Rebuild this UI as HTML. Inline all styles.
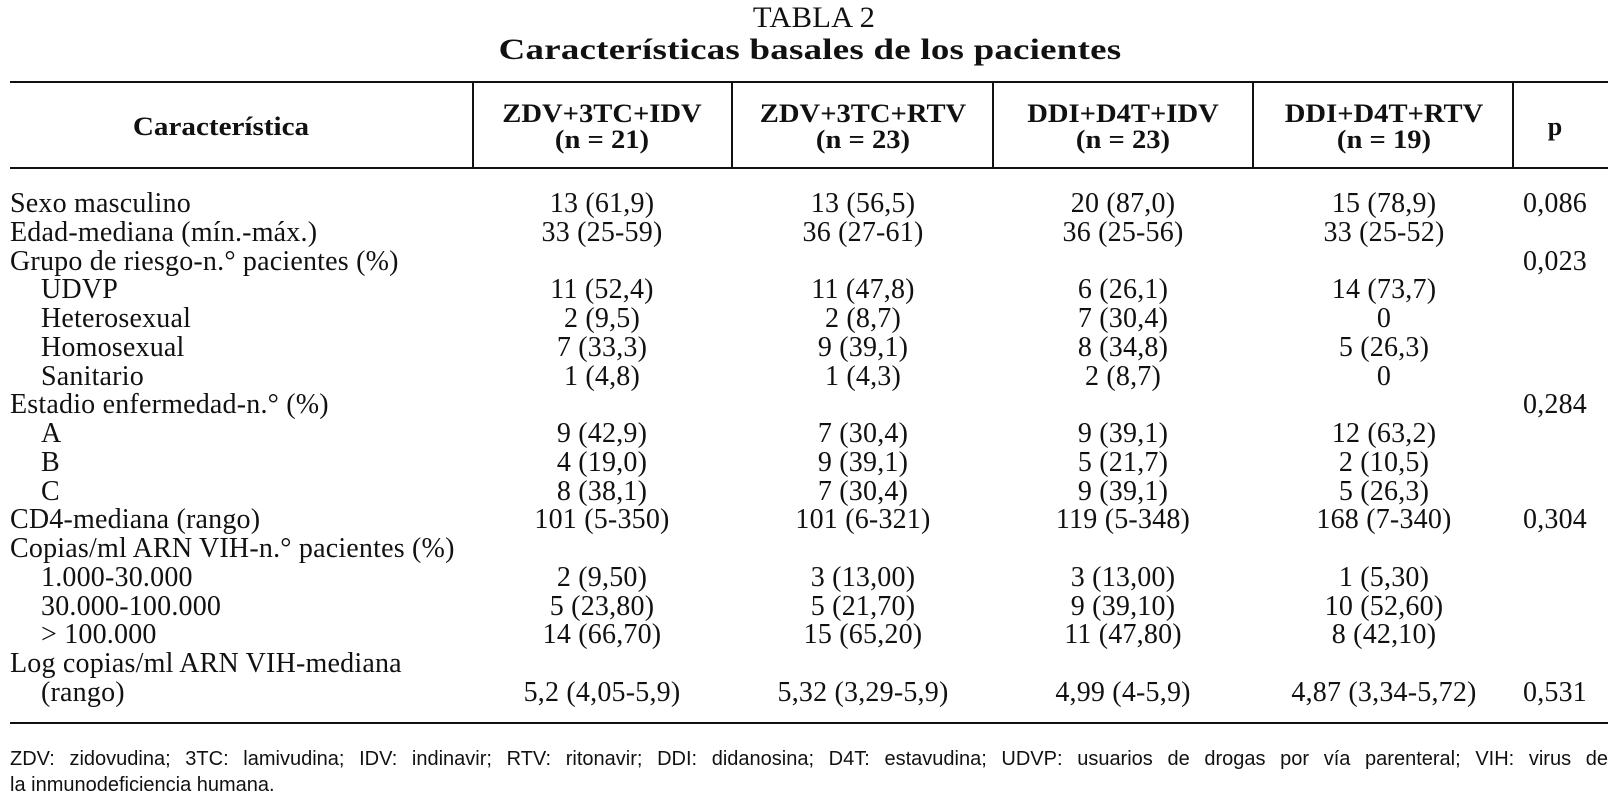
<!DOCTYPE html>
<html><head><meta charset="utf-8"><style>
body{margin:0;width:1619px;height:803px;background:#fff;position:relative;overflow:hidden;font-family:"Liberation Serif",serif;color:#111}
.t{position:absolute;white-space:nowrap;font-size:28px;line-height:28px;letter-spacing:0.2px}
.c{transform:translateX(-50%)}
.h{font-weight:bold;font-size:26px;line-height:26px;text-align:center;letter-spacing:0}
.rule{position:absolute;background:#111}
.fn{position:absolute;left:10px;width:1598px;font-family:"Liberation Sans",sans-serif;font-size:20px;line-height:26px;white-space:nowrap}
</style></head><body>
<div class="t" style="left:814px;top:2px;font-size:30px;line-height:32px;transform:translateX(-50%) scaleX(1.02)">TABLA 2</div>
<div class="t" style="left:810px;top:34px;font-size:30px;line-height:32px;font-weight:bold;transform:translateX(-50%) scaleX(1.23)">Características basales de los pacientes</div>
<div class="rule" style="left:10px;top:81px;width:1598px;height:2px"></div>
<div class="rule" style="left:10px;top:167px;width:1598px;height:2px"></div>
<div class="rule" style="left:10px;top:722px;width:1598px;height:2px"></div>
<div class="rule" style="left:472px;top:83px;width:2px;height:85px"></div>
<div class="rule" style="left:731px;top:83px;width:2px;height:85px"></div>
<div class="rule" style="left:992px;top:83px;width:2px;height:85px"></div>
<div class="rule" style="left:1252px;top:83px;width:2px;height:85px"></div>
<div class="rule" style="left:1512px;top:83px;width:2px;height:85px"></div>
<div class="t h" style="left:221px;top:114px;transform:translateX(-50%) scaleX(1.12)">Característica</div>
<div class="t h" style="left:602px;top:101px;transform:translateX(-50%) scaleX(1.1)">ZDV+3TC+IDV<br>(n = 21)</div>
<div class="t h" style="left:863px;top:101px;transform:translateX(-50%) scaleX(1.1)">ZDV+3TC+RTV<br>(n = 23)</div>
<div class="t h" style="left:1123px;top:101px;transform:translateX(-50%) scaleX(1.1)">DDI+D4T+IDV<br>(n = 23)</div>
<div class="t h" style="left:1384px;top:101px;transform:translateX(-50%) scaleX(1.1)">DDI+D4T+RTV<br>(n = 19)</div>
<div class="t h" style="left:1555px;top:114px;transform:translateX(-50%)">p</div>
<div id="body"></div>
<div class="fn" style="top:746px;text-align:justify;text-align-last:justify">ZDV: zidovudina; 3TC: lamivudina; IDV: indinavir; RTV: ritonavir; DDI: didanosina; D4T: estavudina; UDVP: usuarios de drogas por vía parenteral; VIH: virus de</div>
<div class="fn" style="top:772px">la inmunodeficiencia humana.</div>
<script>
const labels=["Sexo masculino","Edad-mediana (mín.-máx.)","Grupo de riesgo-n.° pacientes (%)","UDVP","Heterosexual","Homosexual","Sanitario","Estadio enfermedad-n.° (%)","A","B","C","CD4-mediana (rango)","Copias/ml ARN VIH-n.° pacientes (%)","1.000-30.000","30.000-100.000","> 100.000","Log copias/ml ARN VIH-mediana","(rango)"];
const indent=[0,0,0,1,1,1,1,0,1,1,1,0,0,1,1,1,0,1];
const c1=["13 (61,9)","33 (25-59)","","11 (52,4)","2 (9,5)","7 (33,3)","1 (4,8)","","9 (42,9)","4 (19,0)","8 (38,1)","101 (5-350)","","2 (9,50)","5 (23,80)","14 (66,70)","","5,2 (4,05-5,9)"];
const c2=["13 (56,5)","36 (27-61)","","11 (47,8)","2 (8,7)","9 (39,1)","1 (4,3)","","7 (30,4)","9 (39,1)","7 (30,4)","101 (6-321)","","3 (13,00)","5 (21,70)","15 (65,20)","","5,32 (3,29-5,9)"];
const c3=["20 (87,0)","36 (25-56)","","6 (26,1)","7 (30,4)","8 (34,8)","2 (8,7)","","9 (39,1)","5 (21,7)","9 (39,1)","119 (5-348)","","3 (13,00)","9 (39,10)","11 (47,80)","","4,99 (4-5,9)"];
const c4=["15 (78,9)","33 (25-52)","","14 (73,7)","0","5 (26,3)","0","","12 (63,2)","2 (10,5)","5 (26,3)","168 (7-340)","","1 (5,30)","10 (52,60)","8 (42,10)","","4,87 (3,34-5,72)"];
const pv=["0,086","","0,023","","","","","0,284","","","","0,304","","","","","","0,531"];
const body=document.getElementById('body');
const centers=[602,863,1123,1384,1555];
labels.forEach((l,i)=>{
  const top=190+i*28.75;
  const d=document.createElement('div');
  d.className='t';
  d.style.left=(indent[i]?41:10)+'px';d.style.top=top+'px';d.textContent=l;
  
  
  body.appendChild(d);
  [c1,c2,c3,c4,pv].forEach((col,j)=>{
    if(!col[i])return;
    const e=document.createElement('div');
    e.className='t c';
    e.style.left=centers[j]+'px';e.style.top=top+'px';e.textContent=col[i];
    
    
    body.appendChild(e);
  });
});
</script>
</body></html>
